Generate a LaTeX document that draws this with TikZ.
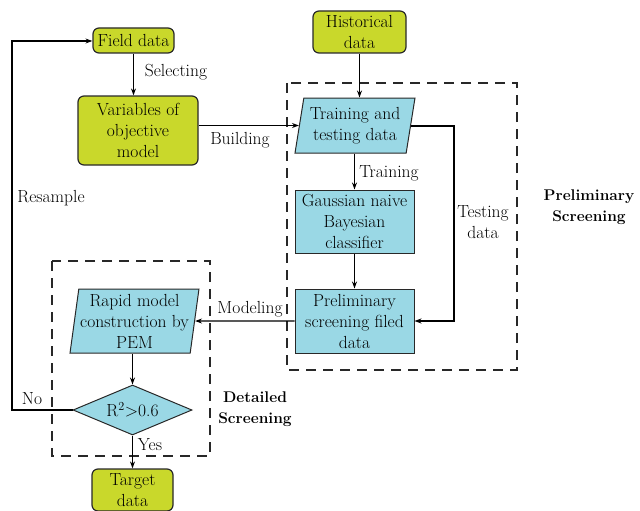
\documentclass[tikz,border=0pt]{standalone}
\usetikzlibrary{shapes.geometric,arrows.meta}
\definecolor{gfill}{RGB}{201,216,43}
\definecolor{cfill}{RGB}{154,216,229}
\definecolor{edge}{RGB}{40,40,40}
\begin{document}
\begin{tikzpicture}[x=1pt,y=-1pt,
  every node/.style={font=\rmfamily\fontsize{17.5}{21}\selectfont, inner sep=0pt, align=center},
  gbox/.style={draw=edge, line width=1.2pt, fill=gfill, rounded corners=6pt},
  cbox/.style={draw=edge, line width=1pt, fill=cfill},
  para/.style={cbox, trapezium, trapezium left angle=#1, trapezium right angle=180-#1, trapezium stretches=true},
  dec/.style={cbox, diamond, aspect=2.4},
  arr/.style={line width=1.3pt, -{Stealth[length=7pt,width=5pt]}},
  frame/.style={line width=1.6pt, draw=edge, dash pattern=on 10pt off 7pt},
  lbl/.style={},
  blbl/.style={font=\rmfamily\fontsize{15.5}{21}\selectfont\bfseries}]
\useasboundingbox (0,0) rectangle (640,511);
% dashed frames
\draw[frame] (287,83) rectangle (517,370);
\draw[frame] (52,261) rectangle (210,456);
% nodes
\node[gbox, minimum width=81pt, minimum height=25pt] (field) at (133.5,40.5) {Field data};
\node[gbox, minimum width=120pt, minimum height=69pt] (vars) at (138,130.5) {Variables of\\objective\\model};
\node[gbox, minimum width=93pt, minimum height=42pt] (hist) at (359.5,32) {Historical\\data};
\node[para=78, minimum width=120pt, minimum height=55pt] (train) at (355,125.5) {Training and\\testing data};
\node[cbox, minimum width=119pt, minimum height=63pt] (gauss) at (354.5,221.5) {Gaussian naive\\Bayesian\\classifier};
\node[cbox, minimum width=119pt, minimum height=64pt] (prel) at (354.5,321) {Preliminary\\screening filed\\data};
\node[para=81, minimum width=129pt, minimum height=64pt] (rapid) at (134.5,321) {Rapid model\\construction by\\PEM};
\node[dec, minimum width=119pt, minimum height=50pt] (dia) at (132.5,410) {R\textsuperscript{2}>0.6};
\node[gbox, minimum width=81pt, minimum height=42pt] (target) at (132.5,490) {Target\\data};
% connectors
\draw[arr] (field.south) -- (field.south |- vars.north);
\draw[arr] (hist.south) -- (hist.south |- train.north);
\draw[arr] (vars.east |- train.west) -- (train.west);
\draw[arr] (train.south -| gauss.north) -- (gauss);
\draw[arr] (gauss) -- (prel);
\coordinate (tr) at (454,126);
\draw[arr] (train.east |- tr) -- (tr) |- (prel.east);
\draw[arr] (prel.west) -- (rapid.east);
\draw[arr] (rapid.south -| dia.north) -- (dia.north);
\coordinate (nl) at (12,410);
\coordinate (nt) at (12,41);
\draw[arr] (dia.west) -- (nl) -- (nt) -- (field.west |- nt);
\draw[arr] (dia.south) -- (target.north);
% labels
\node[lbl] at (176,72) {Selecting};
\node[lbl] at (240,140) {Building};
\node[lbl] at (51,198) {Resample};
\node[lbl] at (389,173) {Training};
\node[lbl] at (483,222) {Testing\\data};
\node[blbl] at (589,207.5) {Preliminary\\Screening};
\node[lbl] at (250,309) {Modeling};
\node[lbl] at (32,399) {No};
\node[lbl] at (150,445) {Yes};
\node[blbl] at (255,409) {Detailed\\Screening};
\end{tikzpicture}
\end{document}
